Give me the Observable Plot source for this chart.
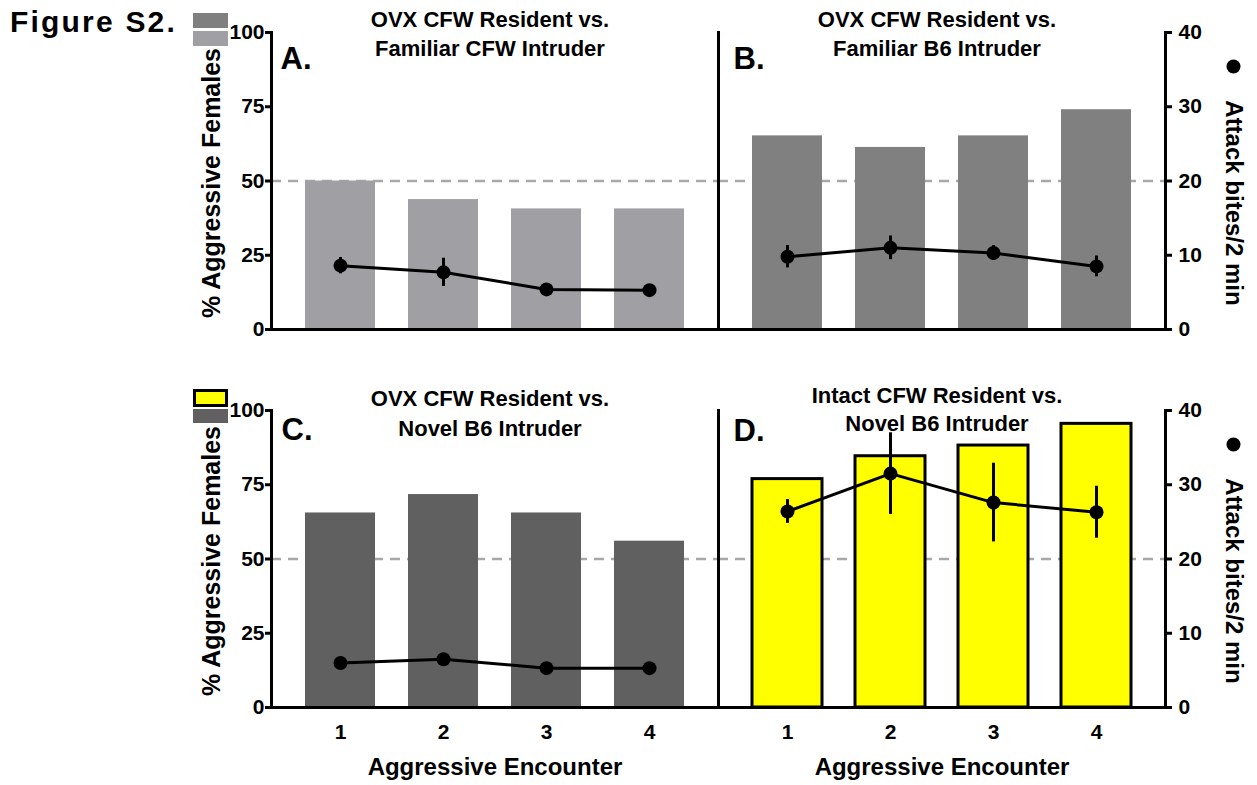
<!DOCTYPE html>
<html>
<head>
<meta charset="utf-8">
<script src="https://cdn.jsdelivr.net/npm/d3@7"></script>
<script src="https://cdn.jsdelivr.net/npm/@observablehq/plot@0.6"></script>
<style>
  body { margin: 0; background: #fff; }
  #wrap { position: relative; width: 1257px; height: 785px; font-family: "Liberation Sans", Arial, sans-serif; font-weight: bold; color: #000; }
  #wrap svg { position: absolute; left: 0; top: 0; }
  #fig { position: absolute; left: 10px; top: 7px; font-size: 30px; font-weight: 700; letter-spacing: 2.2px; line-height: 30px; white-space: nowrap; }
  .sw { position: absolute; left: 193px; width: 35px; box-sizing: border-box; }
</style>
</head>
<body>
<div id="wrap">
  <div id="fig">Figure S2.</div>
</div>
<script>
// ---- data ----
const encounters = [1, 2, 3, 4];
const panelIds = ["A", "B", "C", "D"];
const titleLine1 = ["OVX CFW Resident vs.", "OVX CFW Resident vs.", "OVX CFW Resident vs.", "Intact CFW Resident vs."];
const titleLine2 = ["Familiar CFW Intruder", "Familiar B6 Intruder", "Novel B6 Intruder", "Novel B6 Intruder"];

// % aggressive females (bars, left axis)
const pctA = [50.0, 43.75, 40.6, 40.6];
const pctB = [65.2, 61.3, 65.2, 74.0];
const pctC = [65.5, 71.7, 65.5, 56.0];
const pctD = [76.9, 84.6, 88.2, 95.5];

// attack bites / 2 min (points, right axis) and SEM
const bitesA = [8.6, 7.7, 5.4, 5.3];
const errA   = [1.1, 1.9, 0.5, 0.4];
const bitesB = [9.8, 11.0, 10.3, 8.5];
const errB   = [1.5, 1.6, 1.0, 1.4];
const bitesC = [6.0, 6.5, 5.3, 5.3];
const errC   = [0.4, 0.4, 0.3, 0.3];
const bitesD = [26.4, 31.5, 27.6, 26.3];
const errD   = [1.6, 5.5, 5.3, 3.5];

const pctTicks = [0, 25, 50, 75, 100];
const biteTicks = [0, 10, 20, 30, 40];
const chanceLevel = [50];
const yLabel = "% Aggressive Females";
const y2Label = "Attack bites/2 min";
const xLabel = "Aggressive Encounter";

// ---- build tables ----
const K = 100 / 40; // right-axis (bites) to left-axis (%) factor
const layout = { A: ["L", "T"], B: ["R", "T"], C: ["L", "B"], D: ["R", "B"] };
const fills = { A: "#a0a0a4", B: "#808080", C: "#606060", D: "#ffff00" };
const outlines = { A: "none", B: "none", C: "none", D: "black" };
const series = {
  A: [pctA, bitesA, errA], B: [pctB, bitesB, errB],
  C: [pctC, bitesC, errC], D: [pctD, bitesD, errD]
};
const rows = [];
panelIds.forEach(p => encounters.forEach((e, i) => rows.push({
  panel: p, col: layout[p][0], row: layout[p][1], enc: e,
  pct: series[p][0][i], bites: series[p][1][i], err: series[p][2][i],
  fill: fills[p], outline: outlines[p]
})));
const panels = panelIds.map((p, i) => ({
  panel: p, col: layout[p][0], row: layout[p][1],
  letter: p + ".", t1: titleLine1[i], t2: titleLine2[i]
}));

const letterOffset = { A: [9, 36], B: [15, 36], C: [10, 29], D: [15, 30] };
const titleOffset = { A: [-6, 23], B: [-6, 23], C: [-5, 25], D: [-8, 20] };

const fxy = { fx: "col", fy: "row" };
const panelMarks = [];
panels.forEach(p => {
  const d = [p];
  panelMarks.push(
    Plot.text(d, { ...fxy, text: "letter", frameAnchor: "top-left", textAnchor: "start", lineAnchor: "bottom",
      dx: letterOffset[p.panel][0], dy: letterOffset[p.panel][1], fontSize: 31 }),
    Plot.text(d, { ...fxy, text: "t1", frameAnchor: "top", textAnchor: "middle", lineAnchor: "bottom", dx: -5, dy: titleOffset[p.panel][0], fontSize: 22 }),
    Plot.text(d, { ...fxy, text: "t2", frameAnchor: "top", textAnchor: "middle", lineAnchor: "bottom", dx: -5, dy: titleOffset[p.panel][1], fontSize: 22 })
  );
});

const leftPanels = panels.filter(p => p.col === "L");
const rightPanels = panels.filter(p => p.col === "R");
const bottomPanels = panels.filter(p => p.row === "B");

const chart = Plot.plot({
  width: 1257,
  height: 785,
  marginLeft: 270,
  marginRight: 92,
  marginTop: 32,
  marginBottom: 77,
  style: { fontFamily: "Liberation Sans, Arial, sans-serif", fontWeight: "bold", fontSize: "21px", color: "black", background: "white" },
  x: { type: "band", domain: encounters, padding: 0.32 },
  y: { domain: [0, 100] },
  fx: { domain: ["L", "R"], paddingInner: 0, paddingOuter: 0, axis: null },
  fy: { domain: ["T", "B"], paddingInner: 0.214, paddingOuter: 0, axis: null },
  color: { type: "identity" },
  marks: [
    Plot.ruleY(chanceLevel, { stroke: "#a8a8a8", strokeWidth: 2.5, strokeDasharray: "10,7" }),
    Plot.barY(rows, { ...fxy, x: "enc", y: "pct", fill: "fill", stroke: "outline", strokeWidth: 3 }),
    Plot.ruleY([0], { stroke: "black", strokeWidth: 3 }),
    Plot.frame({ anchor: "left", stroke: "black", strokeWidth: 3 }),
    Plot.frame({ anchor: "right", stroke: "black", strokeWidth: 3 }),
    Plot.ruleX(rows, { ...fxy, x: "enc", y1: d => (d.bites - d.err) * K, y2: d => (d.bites + d.err) * K, stroke: "black", strokeWidth: 3 }),
    Plot.line(rows, { ...fxy, x: "enc", y: d => d.bites * K, stroke: "black", strokeWidth: 3 }),
    Plot.dot(rows, { ...fxy, x: "enc", y: d => d.bites * K, r: 7, fill: "black" }),
    Plot.axisY(pctTicks, { anchor: "left", tickSize: 6, tickPadding: 1, fontSize: 21, fontWeight: "bold", strokeWidth: 3, label: null }),
    Plot.axisY(biteTicks.map(v => v * K), { anchor: "right", tickFormat: d => d / K, tickSize: 6, tickPadding: 7, fontSize: 21, fontWeight: "bold", strokeWidth: 3, label: null }),
    Plot.axisX({ anchor: "bottom", tickSize: 0, tickPadding: 17, fontSize: 21, fontWeight: "bold", label: null }),
    Plot.text(leftPanels, { ...fxy, text: () => yLabel, frameAnchor: "left", textAnchor: "middle", dx: -60, dy: 2, rotate: -90, fontSize: 25, lineAnchor: "middle" }),
    Plot.text(rightPanels, { ...fxy, text: () => y2Label, frameAnchor: "right", textAnchor: "middle", dx: 68, dy: 22, rotate: 90, fontSize: 24, lineAnchor: "middle" }),
    Plot.dot(rightPanels, { ...fxy, frameAnchor: "top-right", dx: 68, dy: 34, r: 7, fill: "black" }),
    Plot.text(bottomPanels, { ...fxy, text: () => xLabel, frameAnchor: "bottom", textAnchor: "middle", dy: 67, fontSize: 24, lineAnchor: "bottom" }),
    ...panelMarks
  ]
});

const wrap = document.getElementById("wrap");
wrap.insertBefore(chart, wrap.firstChild);

// legend swatches (top-left of each row)
const swatches = [
  { top: 13, h: 15, bg: "#808080", border: "none" },
  { top: 31, h: 15, bg: "#a0a0a4", border: "none" },
  { top: 389, h: 18, bg: "#ffff00", border: "3px solid #000" },
  { top: 409, h: 14, bg: "#606060", border: "none" }
];
swatches.forEach(s => {
  const el = document.createElement("div");
  el.className = "sw";
  el.style.top = s.top + "px";
  el.style.height = s.h + "px";
  el.style.background = s.bg;
  el.style.border = s.border;
  wrap.appendChild(el);
});
</script>
</body>
</html>
